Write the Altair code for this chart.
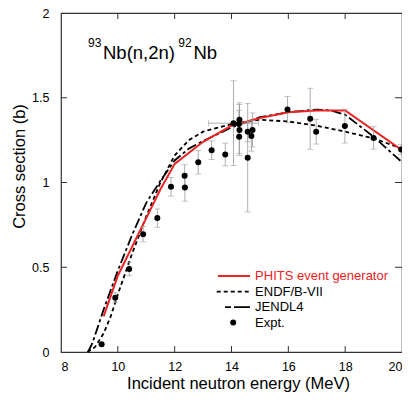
import altair as alt
import pandas as pd

FONT = "Liberation Sans"
RED = "#ee2222"

# PHITS event generator
phits_e = [9.5, 10, 10.5, 11, 11.5, 12, 13, 14, 15, 16, 17, 18, 20]
phits_xs = [0.21, 0.45, 0.62, 0.79, 0.96, 1.11, 1.24, 1.335, 1.38, 1.415, 1.425, 1.425, 1.19]

# ENDF/B-VII
endf_e = [8.93, 9.2, 9.5, 9.75, 10, 10.5, 11, 11.5, 12, 12.5, 13, 14, 15, 16, 17, 18, 19, 20]
endf_xs = [0.0, 0.03, 0.11, 0.21, 0.34, 0.58, 0.80, 1.0, 1.16, 1.25, 1.30, 1.345, 1.37, 1.36, 1.335, 1.30, 1.26, 1.20]

# JENDL4
jendl_e = [8.95, 9.1, 9.5, 10, 10.5, 11, 11.5, 12, 12.5, 13, 14, 15, 16, 17, 17.5, 18, 19, 20]
jendl_xs = [0.0, 0.05, 0.25, 0.48, 0.69, 0.88, 1.01, 1.13, 1.20, 1.245, 1.325, 1.385, 1.415, 1.43, 1.425, 1.40, 1.27, 1.12]

# Experimental data
expt_e = [9.43, 9.91, 10.40, 10.89, 11.39, 11.87, 12.35, 12.36, 12.83, 13.30, 13.78,
          14.07, 14.28, 14.26, 14.28, 14.27, 14.57, 14.57, 14.70, 14.74,
          15.97, 16.77, 16.98, 17.99, 19.0, 19.97]
expt_xs = [0.045, 0.32, 0.49, 0.695, 0.79, 0.975, 1.04, 0.97, 1.12, 1.19, 1.165,
           1.35, 1.37, 1.345, 1.31, 1.27, 1.30, 1.146, 1.275, 1.31,
           1.43, 1.376, 1.30, 1.333, 1.263, 1.195]
expt_err = [0.0, 0.03, 0.04, 0.045, 0.054, 0.055, 0.065, 0.08, 0.07, 0.055, 0.067,
            0.25, 0.10, 0.08, 0.15, 0.10, 0.06, 0.32, 0.09, 0.10,
            0.078, 0.18, 0.073, 0.10, 0.066, 0.03]
expt_xerr = [0] * 11 + [0.88] + [0] * 14

x_ticks = [8, 10, 12, 14, 16, 18, 20]
y_ticks = [0, 0.5, 1, 1.5, 2]
inner_x_ticks = [10, 12, 14, 16, 18]
inner_y_ticks = [0.5, 1, 1.5]

legend_labels = ["PHITS event generator", "ENDF/B-VII", "JENDL4", "Expt."]

W, H = 341, 339

xscale = alt.Scale(domain=[8, 20], nice=False, zero=False)
yscale = alt.Scale(domain=[0, 2], nice=False, zero=False)

xaxis = alt.Axis(values=x_ticks, title="Incident neutron energy (MeV)", ticks=False, domain=False,
                 grid=False, labelFontSize=12.5, labelPadding=8, labelColor="black",
                 titleFontSize=16.5, titleFontWeight="normal", titleColor="black",
                 titleBaseline="alphabetic", titleY=36, titleX=177)
yaxis = alt.Axis(values=y_ticks, title="Cross section (b)", ticks=False, domain=False,
                 grid=False, labelFontSize=12.5, labelPadding=12, labelColor="black", format="~g",
                 titleFontSize=16.5, titleFontWeight="normal", titleColor="black",
                 titleBaseline="alphabetic", titleX=-36.5, titleY=153)

curves = pd.concat([
    pd.DataFrame({"E": phits_e, "xs": phits_xs, "s": "PHITS"}),
    pd.DataFrame({"E": endf_e, "xs": endf_xs, "s": "ENDF"}),
    pd.DataFrame({"E": jendl_e, "xs": jendl_xs, "s": "JENDL"}),
])
expt = pd.DataFrame({"E": expt_e, "xs": expt_xs, "err": expt_err, "xerr": expt_xerr})
expt["lo"] = expt["xs"] - expt["err"]
expt["hi"] = expt["xs"] + expt["err"]
expt["xlo"] = expt["E"] - expt["xerr"]
expt["xhi"] = expt["E"] + expt["xerr"]

base = alt.Chart(curves)

def curve(name, **kw):
    return base.transform_filter(alt.datum.s == name).mark_line(**kw).encode(
        x=alt.X("E:Q", scale=xscale, axis=xaxis),
        y=alt.Y("xs:Q", scale=yscale, axis=yaxis),
    )

endf_line = curve("ENDF", color="black", strokeWidth=1.8, strokeDash=[4, 3])
jendl_line = curve("JENDL", color="black", strokeWidth=1.8, strokeDash=[10, 3, 3, 3])
phits_line = curve("PHITS", color=RED, strokeWidth=2)

GREY = "#999999"
eb = alt.Chart(expt[expt["err"] > 0])
ebar = eb.mark_rule(color=GREY, strokeWidth=0.8).encode(
    x=alt.X("E:Q", scale=xscale), y=alt.Y("lo:Q", scale=yscale), y2="hi:Q")
ecap_lo = eb.mark_tick(color=GREY, thickness=0.8, size=6, orient="horizontal").encode(
    x=alt.X("E:Q", scale=xscale), y=alt.Y("lo:Q", scale=yscale))
ecap_hi = eb.mark_tick(color=GREY, thickness=0.8, size=6, orient="horizontal").encode(
    x=alt.X("E:Q", scale=xscale), y=alt.Y("hi:Q", scale=yscale))
xb = alt.Chart(expt[expt["xerr"] > 0])
xbar = xb.mark_rule(color=GREY, strokeWidth=0.8).encode(
    x=alt.X("xlo:Q", scale=xscale), x2="xhi:Q", y=alt.Y("xs:Q", scale=yscale))
xcap_lo = xb.mark_tick(color=GREY, thickness=0.8, size=6, orient="vertical").encode(
    x=alt.X("xlo:Q", scale=xscale), y=alt.Y("xs:Q", scale=yscale))
xcap_hi = xb.mark_tick(color=GREY, thickness=0.8, size=6, orient="vertical").encode(
    x=alt.X("xhi:Q", scale=xscale), y=alt.Y("xs:Q", scale=yscale))
points = alt.Chart(expt).mark_circle(color="black", opacity=1, size=36).encode(
    x=alt.X("E:Q", scale=xscale), y=alt.Y("xs:Q", scale=yscale))

# inner ticks on all four sides
xt = alt.Chart(pd.DataFrame({"v": inner_x_ticks}))
yt = alt.Chart(pd.DataFrame({"v": inner_y_ticks}))
tick_style = dict(color="#333333", strokeWidth=1)
t_bottom = xt.mark_rule(**tick_style).encode(x=alt.X("v:Q", scale=xscale), y=alt.value(H), y2=alt.value(H - 6))
t_top = xt.mark_rule(**tick_style).encode(x=alt.X("v:Q", scale=xscale), y=alt.value(0), y2=alt.value(6))
t_left = yt.mark_rule(**tick_style).encode(y=alt.Y("v:Q", scale=yscale), x=alt.value(0), x2=alt.value(6))
t_right = yt.mark_rule(**tick_style).encode(y=alt.Y("v:Q", scale=yscale), x=alt.value(W), x2=alt.value(W - 7))

# legend (inside plot, lower right)
y0, dy = 0.448, 0.0915
leg = pd.DataFrame({"label": legend_labels, "i": list(range(len(legend_labels)))})
leg["y"] = y0 - leg["i"] * dy
leg_lines = pd.DataFrame({
    "label": [legend_labels[0]] * 2 + [legend_labels[1]] * 2 + [legend_labels[2]] * 2,
    "x": [13.52, 14.65, 13.48, 14.65, 13.77, 14.65],
    "y": [y0, y0, y0 - dy, y0 - dy, y0 - 2 * dy, y0 - 2 * dy],
})
ll = alt.Chart(leg_lines)
leg_red = ll.transform_filter(alt.datum.label == legend_labels[0]).mark_line(color=RED, strokeWidth=2).encode(
    x=alt.X("x:Q", scale=xscale), y=alt.Y("y:Q", scale=yscale))
leg_endf = ll.transform_filter(alt.datum.label == legend_labels[1]).mark_line(
    color="black", strokeWidth=1.8, strokeDash=[4, 3]).encode(
    x=alt.X("x:Q", scale=xscale), y=alt.Y("y:Q", scale=yscale))
leg_jendl = ll.transform_filter(alt.datum.label == legend_labels[2]).mark_line(
    color="black", strokeWidth=1.8, strokeDash=[6, 3, 30, 0]).encode(
    x=alt.X("x:Q", scale=xscale), y=alt.Y("y:Q", scale=yscale))
leg_dot = alt.Chart(leg[leg["label"] == "Expt."]).transform_calculate(xd="14.06").mark_circle(
    color="black", opacity=1, size=36).encode(
    x=alt.X("xd:Q", scale=xscale), y=alt.Y("y:Q", scale=yscale))
leg_text = alt.Chart(leg).transform_calculate(xt="14.83").mark_text(
    align="left", baseline="middle", fontSize=13, font=FONT).encode(
    x=alt.X("xt:Q", scale=xscale), y=alt.Y("y:Q", scale=yscale), text="label:N",
    color=alt.condition(alt.datum.i == 0, alt.value(RED), alt.value("black")))

# reaction annotation
def txt(t, size, x, y):
    return alt.Chart(pd.DataFrame({"t": [t]})).mark_text(
        align="left", baseline="alphabetic", fontSize=size, font=FONT).encode(
        text="t:N", x=alt.value(x), y=alt.value(y))

ann = [txt("93", 12, 27, 34), txt("Nb(n,2n)", 18.5, 42, 45.5),
       txt("92", 12, 117.3, 34), txt("Nb", 18.5, 132.5, 45.5)]

chart = alt.layer(
    endf_line, jendl_line, phits_line,
    ebar, ecap_lo, ecap_hi, xbar, xcap_lo, xcap_hi, points,
    t_bottom, t_top, t_left, t_right,
    leg_red, leg_endf, leg_jendl, leg_dot, leg_text,
    *ann,
).properties(
    width=W, height=H,
    padding={"left": 53, "top": 5, "right": 0, "bottom": 40},
    autosize=alt.AutoSizeParams(type="none"),
).configure(font=FONT).configure_view(
    stroke="#333333", strokeWidth=1.2
)

chart.save("out.html", embed_options={"renderer": "svg", "actions": False})
